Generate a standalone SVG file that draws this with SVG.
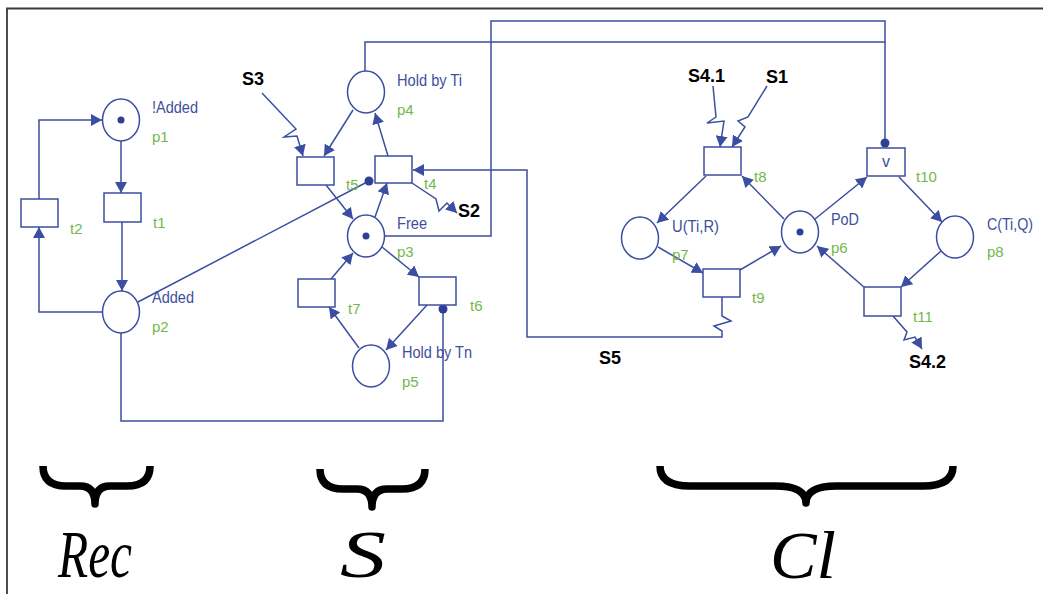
<svg xmlns="http://www.w3.org/2000/svg" width="1043" height="594" viewBox="0 0 1043 594">
  <style>
    .pl { fill: #fff; stroke: #3b4ea2; stroke-width: 1.5; }
    .tr { fill: #fff; stroke: #3b4ea2; stroke-width: 1.5; }
    .arc { fill: none; stroke: #3b4ea2; stroke-width: 1.5; }
    .arr { marker-end: url(#ah); }
    .tok { fill: #2e3f94; }
    .rd { fill: #2e3f94; }
    .nm { font-family: "Liberation Sans", Arial, sans-serif; font-size: 16px; fill: #3e4f9e; }
    .id { font-family: "Liberation Sans", Arial, sans-serif; font-size: 15px; fill: #74b84a; }
    .sig { font-family: "Liberation Sans", Arial, sans-serif; font-size: 18px; font-weight: bold; fill: #000; }
    .brace { fill: none; stroke: #000; stroke-width: 7.5; stroke-linejoin: round; }
    .lbl { font-family: "Liberation Serif", "Times New Roman", serif; font-style: italic; font-size: 68px; fill: #000; }
  </style>
  <defs>
    <marker id="ah" markerUnits="userSpaceOnUse" markerWidth="12" markerHeight="12" refX="11" refY="6" orient="auto">
      <path d="M0,0 L11,6 L0,12 z" fill="#3b4ea2"/>
    </marker>
  </defs>

  <rect width="1043" height="594" fill="#fff"/>
  <!-- frame -->
  <path d="M7,594 V8.5 H1043" fill="none" stroke="#3a3a3a" stroke-width="1.8"/>

  <!-- connectors -->
  <g id="arcs">
    <!-- Rec -->
    <path class="arc arr" d="M39,199 V120 H102"/>
    <path class="arc arr" d="M121,141 V193"/>
    <path class="arc arr" d="M122,222 V291"/>
    <path class="arc arr" d="M102,312 H39 V227"/>
    <path class="arc" d="M138,302 L369,181"/>
    <circle class="rd" cx="369" cy="181" r="4.5"/>
    <path class="arc" d="M121,333 V421 H443 V309"/>
    <circle class="rd" cx="443" cy="309" r="4.5"/>
    <!-- S -->
    <path class="arc" d="M385,236 H491 V21 H885 V142"/>
    <path class="arc" d="M365,71 V42 H885"/>
    <circle class="rd" cx="885" cy="143" r="4.5"/>
    <path class="arc arr" d="M353,110 L324,156"/>
    <path class="arc arr" d="M326,185 L353,219"/>
    <path class="arc arr" d="M375,217 L387,183"/>
    <path class="arc arr" d="M388,156 L375,113"/>
    <path class="arc arr" d="M382,247 L419,277"/>
    <path class="arc arr" d="M427,305 L386,350"/>
    <path class="arc arr" d="M359,348 L329,307"/>
    <path class="arc arr" d="M331,279 L353,253"/>
    <path class="arc arr" d="M262,93 L296,129 L284,137 L297,136 L303,156"/>
    <path class="arc arr" d="M412,183 L436,199 L439,211 L447,203 L457,213"/>
    <!-- Cl -->
    <path class="arc arr" d="M706,176 L657,223"/>
    <path class="arc arr" d="M658,247 L703,273"/>
    <path class="arc arr" d="M740,270 L781,246"/>
    <path class="arc arr" d="M784,219 L742,176"/>
    <path class="arc arr" d="M815,219 L867,177"/>
    <path class="arc arr" d="M899,177 L942,222"/>
    <path class="arc arr" d="M941,251 L901,287"/>
    <path class="arc arr" d="M865,288 L817,246"/>
    <path class="arc arr" d="M713,86 L716,117 L707,123 L724,121 L720,147"/>
    <path class="arc arr" d="M767,86 L748,117 L738,121 L745,127 L732,147"/>
    <path class="arc arr" d="M893,316 L907,332 L904,340 L915,337 L922,349"/>
    <path class="arc arr" d="M722,297 V316 L731,321 L714,326 L722,331 V337 H527 V170 H413"/>
  </g>

  <!-- Rec -->
  <g id="p1">
    <ellipse class="pl" cx="121" cy="120" rx="18.5" ry="21"/>
    <circle class="tok" cx="121" cy="120" r="3.5"/>
    <text class="nm" x="152" y="113" textLength="46" lengthAdjust="spacingAndGlyphs">!Added</text>
    <text class="id" x="152" y="142">p1</text>
  </g>
  <g id="p2">
    <ellipse class="pl" cx="121" cy="312" rx="18.5" ry="21"/>
    <text class="nm" x="152" y="303" textLength="42" lengthAdjust="spacingAndGlyphs">Added</text>
    <text class="id" x="152" y="332">p2</text>
  </g>
  <g id="t1">
    <rect class="tr" x="104" y="193" width="37" height="29"/>
    <text class="id" x="153" y="228">t1</text>
  </g>
  <g id="t2">
    <rect class="tr" x="21" y="199" width="37" height="28"/>
    <text class="id" x="70" y="234">t2</text>
  </g>

  <!-- S -->
  <g id="p4">
    <ellipse class="pl" cx="366" cy="92" rx="18.5" ry="21"/>
    <text class="nm" x="397" y="86" textLength="65" lengthAdjust="spacingAndGlyphs">Hold by Ti</text>
    <text class="id" x="397" y="115">p4</text>
  </g>
  <g id="p3">
    <ellipse class="pl" cx="366" cy="236" rx="18.5" ry="21"/>
    <circle class="tok" cx="366" cy="236" r="3.5"/>
    <text class="nm" x="397" y="229" textLength="30" lengthAdjust="spacingAndGlyphs">Free</text>
    <text class="id" x="397" y="257">p3</text>
  </g>
  <g id="p5">
    <ellipse class="pl" cx="371" cy="366" rx="18.5" ry="21"/>
    <text class="nm" x="402" y="358" textLength="70" lengthAdjust="spacingAndGlyphs">Hold by Tn</text>
    <text class="id" x="402" y="387">p5</text>
  </g>
  <g id="t5">
    <rect class="tr" x="297" y="157" width="37" height="28"/>
    <text class="id" x="346" y="190">t5</text>
  </g>
  <g id="t4">
    <rect class="tr" x="375" y="156" width="37" height="27"/>
    <text class="id" x="424" y="189">t4</text>
  </g>
  <g id="t7">
    <rect class="tr" x="298" y="279" width="37" height="28"/>
    <text class="id" x="348" y="314">t7</text>
  </g>
  <g id="t6">
    <rect class="tr" x="419" y="277" width="37" height="28"/>
    <text class="id" x="470" y="311">t6</text>
  </g>

  <!-- Cl -->
  <g id="p7">
    <ellipse class="pl" cx="640" cy="238" rx="18.5" ry="21"/>
    <text class="nm" x="672" y="232" textLength="47" lengthAdjust="spacingAndGlyphs">U(Ti,R)</text>
    <text class="id" x="672" y="260">p7</text>
  </g>
  <g id="p6">
    <ellipse class="pl" cx="800" cy="232" rx="18.5" ry="21"/>
    <circle class="tok" cx="800" cy="232" r="3.5"/>
    <text class="nm" x="831" y="225" textLength="28" lengthAdjust="spacingAndGlyphs">PoD</text>
    <text class="id" x="831" y="253">p6</text>
  </g>
  <g id="p8">
    <ellipse class="pl" cx="955" cy="237" rx="18.5" ry="21"/>
    <text class="nm" x="987" y="230" textLength="46" lengthAdjust="spacingAndGlyphs">C(Ti,Q)</text>
    <text class="id" x="987" y="257">p8</text>
  </g>
  <g id="t8">
    <rect class="tr" x="704" y="147" width="37" height="28"/>
    <text class="id" x="754" y="182">t8</text>
  </g>
  <g id="t9">
    <rect class="tr" x="703" y="269" width="37" height="28"/>
    <text class="id" x="752" y="303">t9</text>
  </g>
  <g id="t10">
    <rect class="tr" x="867" y="148" width="38" height="28"/>
    <text class="nm" x="886" y="167" text-anchor="middle" font-size="13">v</text>
    <text class="id" x="916" y="182">t10</text>
  </g>
  <g id="t11">
    <rect class="tr" x="864" y="287" width="37" height="29"/>
    <text class="id" x="913" y="322">t11</text>
  </g>

  <!-- signals -->
  <g id="signals">
    <text class="sig" x="242" y="85">S3</text>
    <text class="sig" x="458" y="217">S2</text>
    <text class="sig" x="688" y="82">S4.1</text>
    <text class="sig" x="766" y="83">S1</text>
    <text class="sig" x="599" y="364">S5</text>
    <text class="sig" x="909" y="368">S4.2</text>
  </g>

  <!-- subnet braces -->
  <g id="brace-rec">
    <path class="brace" d="M43,466 Q43,486 66,486 L80,486 Q95,486 95,504 Q95,486 110,486 L127,486 Q150,486 150,466"/>
    <text class="lbl" x="58" y="577" textLength="74" lengthAdjust="spacingAndGlyphs">Rec</text>
  </g>
  <g id="brace-s">
    <path class="brace" d="M320,469 Q320,489 343,489 L357,489 Q372,489 372,507 Q372,489 387,489 L402,489 Q425,489 425,469"/>
    <text class="lbl" x="340" y="577" textLength="46" lengthAdjust="spacingAndGlyphs">S</text>
  </g>
  <g id="brace-cl">
    <path class="brace" stroke-width="9" d="M660,466 Q660,486 690,486 L775,486 Q806,486 806,503 Q806,486 837,486 L923,486 Q953,486 953,466"/>
    <text class="lbl" x="770" y="578" textLength="66" lengthAdjust="spacingAndGlyphs">Cl</text>
  </g>
</svg>
